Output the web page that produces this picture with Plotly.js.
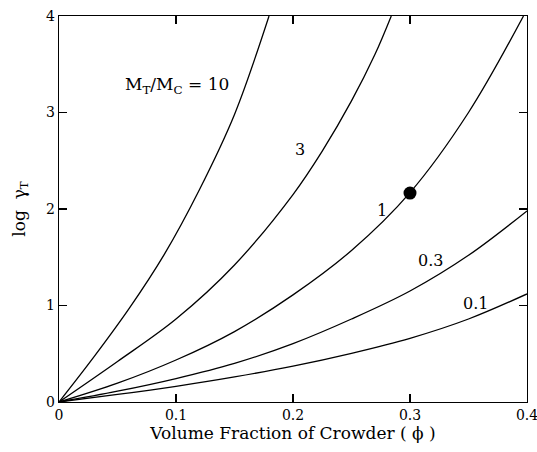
<!DOCTYPE html>
<html>
<head>
<meta charset="utf-8">
<script src="https://cdn.plot.ly/plotly-3.0.1.min.js"></script>
<style>html,body{margin:0;padding:0;background:#fff;}#chart{width:537px;height:452px;}</style>
</head>
<body>
<div id="chart"></div>
<script>
// Curve values (phi, log gamma_T)
const ratio10_x = [0, 0.03, 0.06, 0.09, 0.12, 0.15, 0.1795];
const ratio10_y = [0, 0.47, 0.97, 1.53, 2.2, 2.98, 4.0];

const ratio3_x = [0, 0.05, 0.1, 0.15, 0.2, 0.225, 0.25, 0.27, 0.284];
const ratio3_y = [0, 0.42, 0.86, 1.42, 2.15, 2.6, 3.12, 3.6, 4.0];

const ratio1_x = [0, 0.05, 0.1, 0.15, 0.2, 0.25, 0.3, 0.35, 0.397];
const ratio1_y = [0, 0.195, 0.435, 0.73, 1.11, 1.57, 2.17, 3.0, 4.0];

const ratio03_x = [0, 0.05, 0.1, 0.15, 0.2, 0.25, 0.3, 0.35, 0.4];
const ratio03_y = [0, 0.112, 0.243, 0.4, 0.605, 0.86, 1.15, 1.52, 1.98];

const ratio01_x = [0, 0.05, 0.1, 0.15, 0.2, 0.25, 0.3, 0.35, 0.4];
const ratio01_y = [0, 0.078, 0.163, 0.26, 0.372, 0.505, 0.66, 0.86, 1.12];

const point_x = [0.3];
const point_y = [2.165];

const labelText = ["M<sub>T</sub>/M<sub>C</sub> = 10", "3", "1", "0.3", "0.1"];
const labelX = [0.1009, 0.2057, 0.2758, 0.3177, 0.3556];
const labelY = [3.285, 2.618, 1.982, 1.47, 1.023];

const xTickVals = [0, 0.1, 0.2, 0.3, 0.4];
const xTickText = ["0", "0.1", "0.2", "0.3", "0.4"];
const yTickVals = [0, 1, 2, 3, 4];
const yTickText = ["0", "1", "2", "3", "4"];

const FONT = "'DejaVu Serif', 'Liberation Serif', serif";
const lineStyle = {color: "#000", width: 1.3, shape: "spline", smoothing: 1};

const series = [[ratio10_x, ratio10_y], [ratio3_x, ratio3_y], [ratio1_x, ratio1_y], [ratio03_x, ratio03_y], [ratio01_x, ratio01_y]];
const traces = series.map(s => ({x: s[0], y: s[1], mode: "lines", type: "scatter", line: lineStyle, hoverinfo: "skip"}));
traces.push({x: point_x, y: point_y, mode: "markers", type: "scatter", marker: {color: "#000", size: 13}, cliponaxis: false});

const annotations = labelText.map((t, i) => ({x: labelX[i], y: labelY[i], xref: "x", yref: "y", text: t, showarrow: false, font: {family: FONT, size: i === 0 ? 17 : 16, color: "#000"}}));

const axisCommon = {
  showline: true, linecolor: "#000", linewidth: 1.3, mirror: "ticks",
  ticks: "inside", ticklen: 8, tickwidth: 1.3, tickcolor: "#000",
  showgrid: false, zeroline: false, ticklabeloverflow: "allow",
  tickfont: {family: FONT, size: 14, color: "#000"}
};

const layout = {
  width: 537, height: 452,
  margin: {l: 59, r: 10, t: 16, b: 50},
  paper_bgcolor: "#fff", plot_bgcolor: "#fff",
  showlegend: false,
  xaxis: Object.assign({}, axisCommon, {
    range: [0, 0.4], tickmode: "array", tickvals: xTickVals, ticktext: xTickText,
    title: {text: "Volume Fraction of Crowder ( ϕ )", font: {family: FONT, size: 17, color: "#000"}, standoff: 3}
  }),
  yaxis: Object.assign({}, axisCommon, {
    range: [0, 4], tickmode: "array", tickvals: yTickVals, ticktext: yTickText,
    title: {text: "log  γ<sub>T</sub>", font: {family: FONT, size: 17, color: "#000"}, standoff: 16}
  }),
  annotations: annotations
};

Plotly.newPlot("chart", traces, layout, {staticPlot: true, displayModeBar: false});
</script>
</body>
</html>
